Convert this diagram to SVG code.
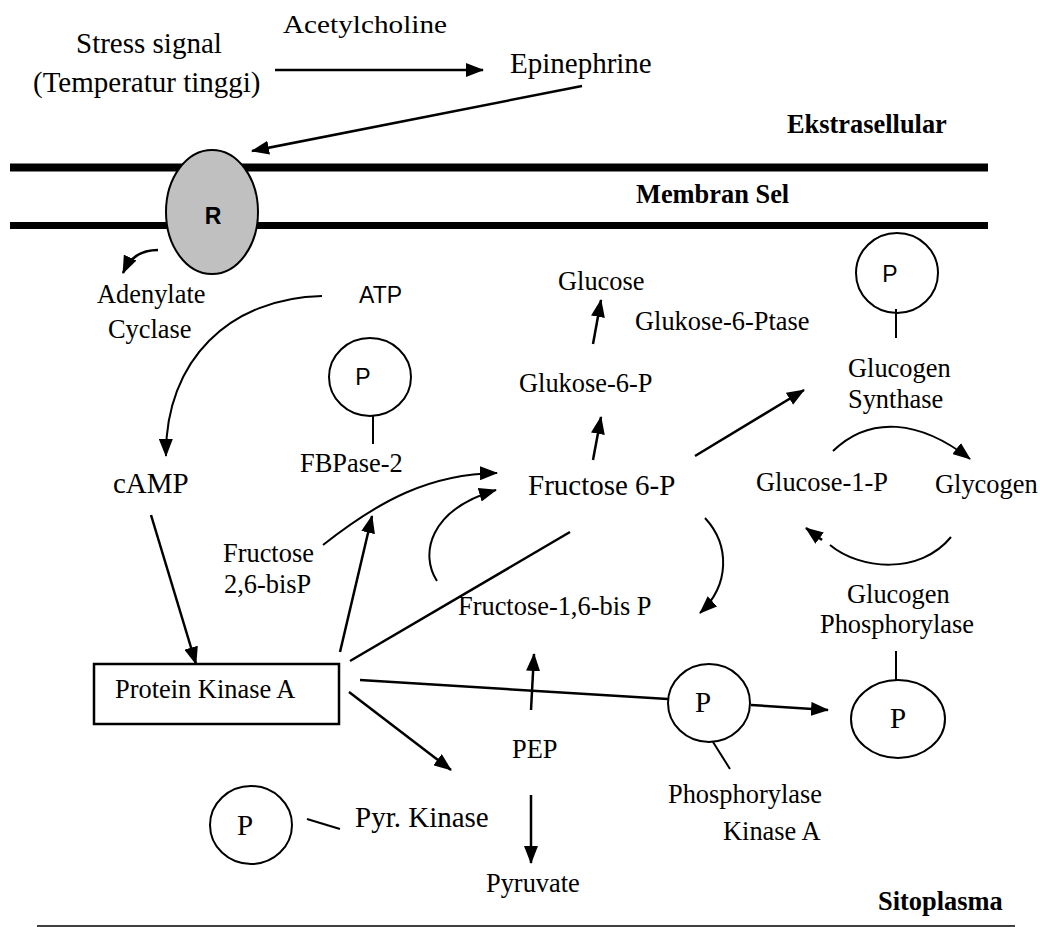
<svg xmlns="http://www.w3.org/2000/svg" width="1040" height="927" viewBox="0 0 1040 927">
<style>
.t{font-family:"Liberation Serif","Times New Roman",serif;font-size:26.4px;fill:#000}
.L{font-size:29px}
.b{font-weight:bold}
.s{font-family:"Liberation Sans",Arial,sans-serif;font-size:23px;fill:#000}
.c{fill:none;stroke:#000;stroke-width:2.5}
.cv{fill:none;stroke:#000;stroke-width:2}
.circ{fill:#fff;stroke:#000;stroke-width:2}
</style>
<defs>
<marker id="ah" markerUnits="userSpaceOnUse" markerWidth="18" markerHeight="14" viewBox="0 0 18 14" refX="17" refY="7" orient="auto">
<path d="M0,0 L18,7 L0,14 Z" fill="#000"/>
</marker>
</defs>
<rect width="1040" height="927" fill="#fff"/>

<g id="membrane">
<line x1="10" y1="167.5" x2="988" y2="167.5" stroke="#000" stroke-width="8"/>
<line x1="10" y1="225.5" x2="988" y2="225.5" stroke="#000" stroke-width="7"/>
<text class="t b" x="787" y="133">Ekstrasellular</text>
<text class="t b" x="636" y="203">Membran Sel</text>
</g>
<g id="bottom">
<line x1="37" y1="926" x2="1015" y2="926" stroke="#000" stroke-width="1.5"/>
<text class="t b" x="878" y="910">Sitoplasma</text>
</g>

<g id="stress"><text class="t L" x="76" y="53">Stress signal</text><text class="t L" x="33" y="92">(Temperatur tinggi)</text></g>
<g id="acetylcholine"><text class="t" x="283" y="33" style="font-size:25.5px" textLength="164" lengthAdjust="spacingAndGlyphs">Acetylcholine</text></g>
<g id="epinephrine"><text class="t L" x="510" y="73">Epinephrine</text></g>
<g id="receptor"><ellipse cx="212" cy="212" rx="46" ry="62" fill="#c0c0c0" stroke="#000" stroke-width="2"/><text class="s" x="213" y="224" text-anchor="middle" style="font-weight:bold;font-size:23px">R</text></g>
<g id="adenylate"><text class="t" x="97" y="303">Adenylate</text><text class="t" x="108" y="338">Cyclase</text></g>
<g id="atp"><text class="s" x="359" y="303">ATP</text></g>
<g id="camp"><text class="t L" x="113" y="493">cAMP</text></g>
<g id="fbpase2"><ellipse class="circ" cx="370" cy="377" rx="41" ry="39"/><text class="s" x="363" y="385" text-anchor="middle">P</text><line x1="373" y1="416" x2="373" y2="444" stroke="#000" stroke-width="2"/><text class="t" x="300" y="472">FBPase-2</text></g>
<g id="f26bp"><text class="t" x="223" y="562">Fructose</text><text class="t" x="224" y="593">2,6-bisP</text></g>
<g id="f6p"><text class="t L" x="528" y="495">Fructose 6-P</text></g>
<g id="f16bp"><text class="t" x="458" y="615">Fructose-1,6-bis P</text></g>
<g id="g6p"><text class="t" x="519" y="392">Glukose-6-P</text></g>
<g id="glucose"><text class="t" x="558" y="290">Glucose</text></g>
<g id="g6pase"><text class="t" x="635" y="330">Glukose-6-Ptase</text></g>
<g id="glycogensynthase"><ellipse class="circ" cx="897" cy="273" rx="41" ry="40"/><text class="s" x="890" y="282" text-anchor="middle">P</text><line x1="896" y1="309" x2="896" y2="338" stroke="#000" stroke-width="2"/><text class="t" x="848" y="377">Glucogen</text><text class="t" x="848" y="408">Synthase</text></g>
<g id="g1p"><text class="t" x="756" y="491">Glucose-1-P</text></g>
<g id="glycogen"><text class="t" x="935" y="493">Glycogen</text></g>
<g id="glycogenphosphorylase"><text class="t" x="847" y="603">Glucogen</text><text class="t" x="820" y="633">Phosphorylase</text><line x1="896" y1="651" x2="896" y2="680" stroke="#000" stroke-width="2"/><ellipse class="circ" cx="898" cy="719" rx="47" ry="39"/><text class="t L" x="898" y="728" text-anchor="middle">P</text></g>
<g id="phosphorylasekinase"><ellipse class="circ" cx="709" cy="703" rx="41" ry="39"/><text class="t L" x="703" y="712" text-anchor="middle">P</text><line x1="713" y1="742" x2="730" y2="769" stroke="#000" stroke-width="2"/><text class="t" x="668" y="803">Phosphorylase</text><text class="t" x="723" y="840">Kinase A</text></g>
<g id="pka"><rect x="94" y="664" width="245" height="60" fill="#fff" stroke="#000" stroke-width="2.5"/><text class="t" x="115" y="698">Protein Kinase A</text></g>
<g id="pep"><text class="t" x="512" y="758">PEP</text></g>
<g id="pyruvate"><text class="t" x="486" y="892">Pyruvate</text></g>
<g id="pyrkinase"><ellipse class="circ" cx="251" cy="825" rx="41" ry="39"/><text class="t L" x="245" y="835" text-anchor="middle">P</text><line x1="307" y1="819" x2="340" y2="829" stroke="#000" stroke-width="2"/><text class="t L" x="355" y="827">Pyr. Kinase</text></g>

<g id="connectors">
<line class="c" x1="275" y1="70" x2="483" y2="70" marker-end="url(#ah)"/>
<line class="c" x1="582" y1="86" x2="252" y2="151" marker-end="url(#ah)"/>
<path class="c" d="M158,250 C140,250 130,258 123,273" marker-end="url(#ah)"/>
<path class="cv" d="M322,296 C230,298 165,360 166,456" marker-end="url(#ah)"/>
<line class="c" x1="151" y1="515" x2="196" y2="664" marker-end="url(#ah)"/>
<line class="c" x1="340" y1="652" x2="372" y2="516" marker-end="url(#ah)"/>
<path class="cv" d="M323,545 C380,500 430,474 497,473" marker-end="url(#ah)"/>
<path class="cv" d="M437,581 C420,555 428,510 496,490" marker-end="url(#ah)"/>
<line class="c" x1="350" y1="661" x2="570" y2="532"/>
<path class="cv" d="M705,518 C730,545 730,585 700,613" marker-end="url(#ah)"/>
<line class="c" x1="593" y1="460" x2="601" y2="417" marker-end="url(#ah)"/>
<line class="c" x1="593" y1="344" x2="601" y2="300" marker-end="url(#ah)"/>
<line class="c" x1="695" y1="456" x2="804" y2="390" marker-end="url(#ah)"/>
<path class="cv" d="M833,451 C870,415 920,420 970,459" marker-end="url(#ah)"/>
<path class="cv" d="M951,537 C920,575 860,570 830,545"/>
<line class="c" x1="822" y1="540" x2="806" y2="528" marker-end="url(#ah)"/>
<line class="c" x1="360" y1="680" x2="668" y2="699"/>
<line class="c" x1="751" y1="705" x2="828" y2="710" marker-end="url(#ah)"/>
<line class="c" x1="349" y1="692" x2="451" y2="770" marker-end="url(#ah)"/>
<line class="c" x1="531" y1="710" x2="534" y2="654" marker-end="url(#ah)"/>
<line class="c" x1="531" y1="795" x2="531" y2="863" marker-end="url(#ah)"/>
</g>
</svg>
